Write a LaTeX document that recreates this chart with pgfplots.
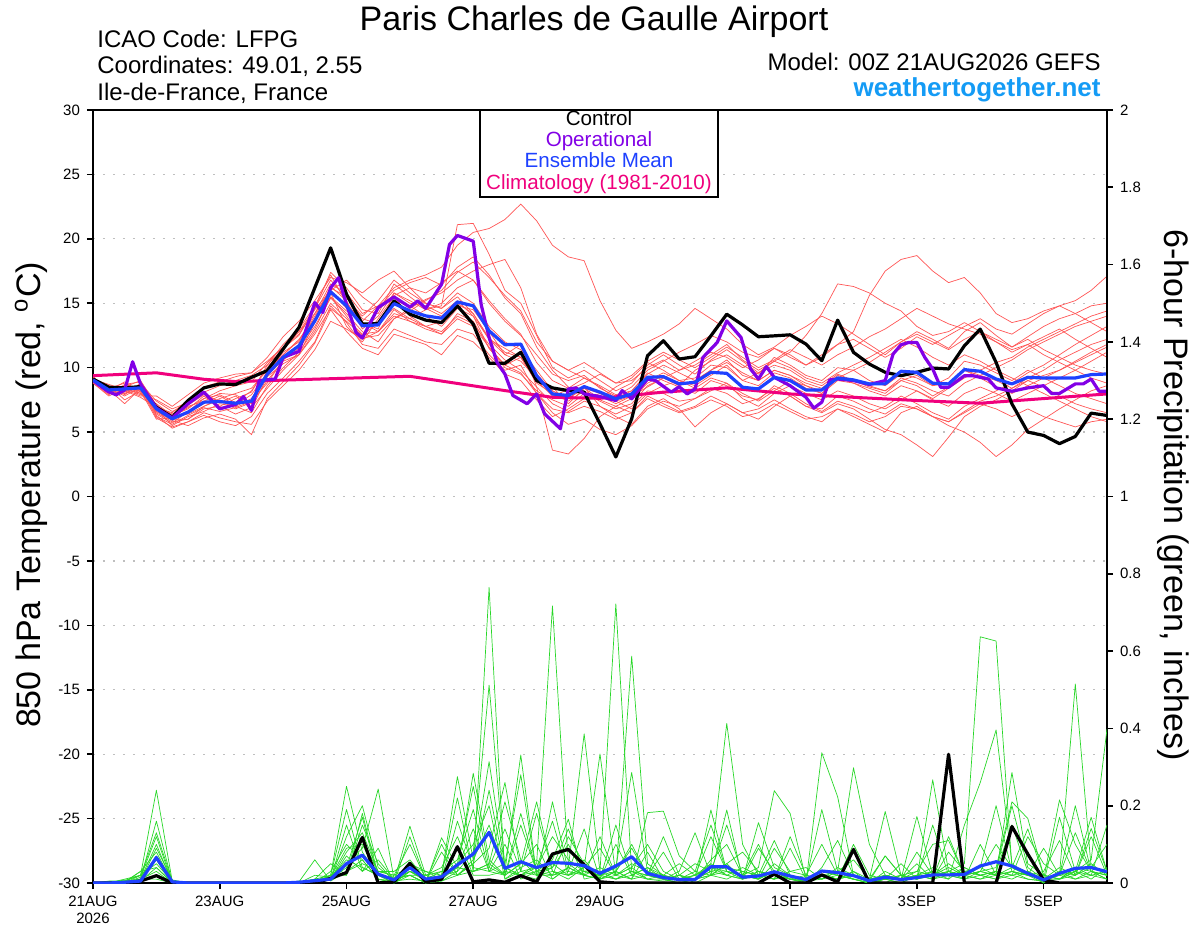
\documentclass[border=0pt]{standalone}
\usepackage{pgfplots}
\usepackage{pgfplotstable}
\pgfplotsset{compat=1.18}
\usepackage{fontspec}
\setmainfont{Liberation Sans}
\definecolor{redm}{RGB}{255,85,85}
\definecolor{greenm}{RGB}{40,215,40}
\definecolor{opcol}{RGB}{130,0,230}
\definecolor{meancol}{RGB}{30,65,255}
\definecolor{climcol}{RGB}{240,0,125}
\definecolor{webcol}{RGB}{20,155,245}

\pgfplotstableread{
k c m e1 e2 e3 e4 e5 e6 e7 e8 e9 e10 e11 e12
0 9.12 9.05 9.2 9.0 8.9 9.1 9.3 8.8 9.0 9.2 8.9 9.1 9.0 9.3
1 8.48 8.27 8.5 8.0 8.3 8.6 8.1 7.9 8.4 8.2 8.0 8.7 8.3 8.1
2 8.43 8.35 8.0 8.6 8.2 7.5 8.4 8.7 7.8 8.9 8.1 8.3 7.2 8.5
3 8.53 8.43 8.3 8.0 8.7 8.2 7.9 8.9 8.5 8.1 8.6 7.8 8.4 9.0
4 6.93 6.80 6.5 7.2 6.8 6.0 7.5 6.3 7.0 6.9 6.2 7.8 6.6 7.1
5 6.16 6.03 5.8 6.3 5.5 6.1 6.8 5.3 6.0 6.5 5.6 7.0 5.9 6.2
6 7.45 6.55 6.0 6.8 6.2 7.0 7.3 5.8 6.5 7.5 6.3 7.9 5.5 6.9
7 8.43 7.32 7.0 7.8 6.6 7.4 8.5 6.3 7.2 8.0 6.9 8.8 6.1 7.6
8 8.74 7.37 7.5 7.0 7.2 8.0 8.9 5.8 7.8 7.3 6.6 9.2 6.4 7.9
9 8.69 7.24 6.8 7.6 7.0 7.9 9.3 5.5 7.1 7.8 6.9 9.5 6.0 7.3
10 9.25 7.40 7.3 8.1 6.5 7.2 9.6 6.2 7.9 6.8 7.4 9.6 4.8 8.2
11 9.77 9.50 9.8 10.2 8.6 9.0 10.8 8.0 9.6 9.3 8.8 10.5 7.6 10.0
12 11.44 10.80 11.0 11.8 10.0 10.5 12.4 9.2 11.2 10.3 10.6 11.6 8.9 11.5
13 13.12 11.70 12.1 13.0 11.2 11.0 13.6 10.5 12.0 11.0 11.8 12.6 10.2 12.5
14 16.20 13.63 14.2 14.8 13.0 13.5 15.2 12.0 14.0 12.8 13.8 14.5 11.9 14.6
15 19.30 15.88 16.5 17.2 15.5 15.8 17.0 14.8 16.2 15.0 16.3 16.0 14.5 17.4
16 15.70 14.80 15.8 15.0 14.0 13.2 16.6 13.5 15.5 13.8 15.2 14.6 12.8 16.2
17 13.38 13.25 14.2 13.5 12.3 12.0 15.8 11.8 13.8 12.6 13.0 13.5 11.5 14.5
18 13.43 13.32 14.8 13.0 12.5 13.8 16.8 11.5 13.4 12.8 14.0 12.8 11.0 14.2
19 15.18 14.97 16.2 15.8 13.8 15.5 17.5 13.0 15.2 14.5 15.8 14.2 12.6 16.5
20 14.15 14.41 16.8 15.2 14.6 14.0 16.2 12.5 14.8 13.6 15.0 13.8 12.2 15.5
21 13.69 14.02 17.2 14.5 15.3 13.2 15.0 12.0 14.0 13.2 14.8 14.5 11.8 14.6
22 13.50 13.84 17.8 14.8 15.8 12.6 14.6 11.8 13.2 13.6 14.2 15.0 11.0 14.0
23 14.80 15.10 19.5 21.1 16.8 14.2 15.5 13.0 14.6 14.8 15.2 16.2 12.5 15.0
24 13.38 14.80 20.5 21.2 17.5 13.6 14.2 12.6 14.0 14.5 14.0 16.8 12.0 14.2
25 10.34 12.86 20.8 18.8 18.0 11.5 12.3 11.0 12.2 12.8 11.5 15.0 10.8 12.2
26 10.34 11.78 21.5 16.0 18.4 10.0 11.2 9.8 11.5 11.0 10.2 13.6 9.5 11.0
27 11.19 11.83 22.7 15.0 16.2 9.5 10.8 10.2 10.8 11.8 10.8 12.5 9.0 10.5
28 9.00 9.38 21.4 12.5 12.6 8.2 9.5 8.0 9.0 8.5 8.8 11.0 7.5 9.2
29 8.43 7.96 19.5 10.0 10.5 7.5 8.2 6.8 7.8 3.6 8.0 9.5 6.2 8.5
30 8.22 7.84 18.6 9.2 9.8 7.0 7.6 6.5 8.3 3.3 7.4 9.0 6.8 7.2
31 8.10 8.53 18.3 9.8 9.2 8.0 8.5 7.0 8.8 4.5 8.2 9.4 7.6 8.4
32 5.64 8.10 15.2 9.0 8.5 7.8 7.0 6.6 9.5 6.2 7.5 8.4 8.0 7.6
33 3.07 7.58 12.9 8.2 7.6 7.2 6.2 6.0 8.8 7.0 7.0 7.8 7.4 8.5
34 6.03 7.96 11.5 8.8 8.2 7.8 5.6 6.5 9.0 7.6 6.5 8.5 6.8 9.2
35 10.93 9.25 12.0 10.2 9.6 8.5 7.0 7.8 10.0 8.8 7.6 9.8 8.0 10.4
36 12.09 9.30 12.6 11.0 9.0 9.2 7.6 7.2 10.6 9.4 7.0 10.5 8.6 9.8
37 10.67 8.74 13.4 10.2 8.5 9.8 6.8 6.6 9.8 8.6 6.5 11.2 9.0 9.0
38 10.85 8.87 14.6 9.5 8.0 10.5 5.4 7.0 10.2 9.8 6.9 11.8 8.4 8.6
39 12.47 9.64 13.8 10.6 9.0 11.2 6.5 7.8 11.0 10.5 7.5 12.5 9.2 9.4
40 14.15 9.56 13.0 11.4 8.6 10.8 7.2 7.2 11.8 11.0 7.0 12.0 8.8 10.2
41 13.32 8.48 11.8 10.5 7.8 10.0 6.5 6.5 10.6 10.2 6.2 11.2 7.6 9.0
42 12.40 8.35 11.0 9.6 7.5 10.6 6.0 6.8 9.8 9.5 6.5 10.8 7.0 9.6
43 12.47 9.25 11.6 10.2 8.6 11.5 7.0 7.5 10.5 10.8 7.2 11.5 8.0 10.5
44 12.55 9.00 12.5 9.8 8.0 11.0 7.8 6.8 11.2 10.2 6.6 10.8 8.6 10.0
45 11.83 8.27 13.2 9.0 7.2 10.2 7.0 6.2 12.5 9.4 6.0 10.2 8.0 9.2
46 10.54 8.27 14.0 8.6 6.6 10.8 6.5 5.8 14.2 9.0 6.2 11.0 7.5 8.8
47 13.69 9.20 13.4 9.5 7.4 11.8 7.2 6.8 16.5 10.0 6.8 11.8 8.2 9.6
48 11.19 9.05 12.6 9.0 7.0 12.8 6.8 6.2 16.3 9.8 6.4 12.2 7.8 10.2
49 10.28 8.74 11.8 8.5 6.5 15.6 6.0 5.6 15.8 9.0 5.8 11.5 7.2 10.8
50 9.64 8.74 11.0 8.2 7.0 17.5 5.2 5.0 15.0 8.6 6.2 10.8 6.8 11.5
51 9.38 9.72 12.0 9.0 7.8 18.4 4.8 6.5 14.4 9.5 7.0 11.5 7.5 12.2
52 9.64 9.64 12.8 8.6 7.2 18.7 4.0 7.0 13.2 9.2 6.8 12.4 8.2 11.6
53 9.97 8.79 12.2 7.8 6.5 17.5 3.1 6.2 12.5 8.6 6.2 11.8 7.5 10.8
54 9.90 8.74 11.5 8.5 6.0 16.6 4.6 5.5 12.8 9.2 5.8 12.5 7.0 10.2
55 11.70 9.85 12.8 9.8 7.0 17.0 6.2 5.0 13.5 10.5 6.5 13.2 8.0 11.0
56 12.99 9.72 13.5 9.2 7.6 15.8 7.0 4.2 12.8 10.2 7.2 13.8 8.5 10.5
57 10.41 9.12 12.5 8.5 8.2 14.2 7.5 3.1 12.0 9.6 6.8 13.0 8.0 9.8
58 7.19 8.74 11.6 8.0 8.8 13.5 8.2 4.0 11.2 9.0 6.2 12.6 7.4 9.2
59 5.00 9.25 12.2 8.6 9.6 13.8 9.0 5.2 11.8 9.8 6.8 13.4 8.0 8.6
60 4.74 9.20 11.4 9.2 10.2 14.4 8.5 6.0 12.4 9.2 6.2 14.2 8.6 8.0
61 4.10 9.20 10.8 9.8 11.0 14.8 7.8 6.8 13.0 8.6 5.8 14.8 9.2 7.4
62 4.66 9.20 10.2 10.5 11.8 15.2 7.2 7.5 12.2 8.0 5.4 14.2 9.8 6.8
63 6.47 9.46 9.8 11.2 12.5 16.0 6.8 8.2 11.5 7.6 5.8 13.5 10.5 6.2
64 6.29 9.51 9.5 11.8 13.2 17.1 6.5 8.6 10.8 7.2 6.0 12.8 11.2 5.8
}\temps

\pgfplotstableread{
k e13 e14 e15 e16 e17 e18
0 9.0 9.2 8.8 9.1 9.3 8.9
1 8.2 8.4 7.8 8.6 8.0 8.3
2 8.0 8.8 8.4 7.9 8.6 8.2
3 8.6 8.2 8.0 8.8 8.4 7.7
4 6.4 7.0 6.6 7.4 6.1 6.9
5 5.7 6.4 6.0 6.6 5.4 6.2
6 6.6 7.1 6.0 7.2 5.8 6.4
7 7.6 7.9 6.8 8.1 6.5 7.0
8 8.2 7.4 7.0 8.6 6.1 7.6
9 8.6 7.0 6.4 9.0 5.8 8.0
10 8.9 7.6 6.9 9.4 5.6 8.4
11 10.4 9.4 8.4 10.2 7.4 9.8
12 11.6 10.6 9.8 11.5 8.6 11.0
13 12.8 11.5 11.0 12.8 9.8 12.2
14 14.6 13.2 12.6 14.2 11.4 13.8
15 16.8 15.4 14.6 16.0 13.6 15.5
16 15.4 14.2 13.6 16.8 13.0 14.4
17 14.0 12.8 12.5 15.5 12.2 13.6
18 15.2 12.0 13.5 14.6 12.8 14.8
19 16.8 13.8 14.6 16.0 14.0 15.6
20 15.8 14.4 13.8 16.6 13.6 16.2
21 15.0 15.2 13.2 17.0 13.0 15.8
22 14.6 16.0 12.8 16.4 12.6 16.6
23 15.8 17.4 14.0 17.8 13.8 17.5
24 15.0 18.2 13.4 18.6 13.2 16.8
25 13.2 17.0 11.8 17.2 11.6 15.2
26 12.0 15.6 10.6 15.4 10.2 13.8
27 11.4 14.4 9.8 14.2 9.6 12.6
28 9.8 12.0 8.5 11.6 8.0 10.4
29 8.2 10.5 7.2 9.8 6.5 9.0
30 7.6 9.8 6.6 8.5 5.6 8.4
31 8.4 10.4 7.4 8.0 6.0 9.2
32 8.0 9.6 7.0 7.4 5.2 8.6
33 7.4 8.8 6.4 6.8 4.8 7.9
34 7.8 9.4 7.0 7.2 5.5 8.2
35 9.0 10.5 8.2 8.6 6.8 9.5
36 9.6 11.2 8.0 9.2 7.4 10.2
37 9.0 10.6 7.4 8.6 7.0 9.6
38 9.2 10.0 7.6 9.0 7.6 9.0
39 10.2 10.8 8.4 9.8 8.2 9.8
40 10.0 11.6 8.0 10.4 8.8 10.6
41 9.0 10.8 7.2 9.6 8.0 9.4
42 8.6 10.0 7.6 9.0 7.4 9.0
43 9.6 10.6 8.4 9.8 8.2 9.8
44 9.2 11.4 7.8 9.4 9.0 9.4
45 8.4 10.8 7.0 8.8 8.6 8.6
46 8.0 10.2 6.8 8.4 8.2 8.0
47 9.0 11.0 7.8 9.4 9.2 9.2
48 8.8 11.6 7.4 9.0 9.8 8.8
49 8.4 12.4 6.8 8.6 10.4 8.2
50 8.0 13.0 6.4 8.2 11.2 7.8
51 9.0 13.8 7.2 9.2 12.0 8.6
52 9.4 14.6 6.8 8.8 12.6 8.2
53 8.6 14.0 6.2 8.2 12.0 7.6
54 8.8 13.4 5.8 7.8 11.4 8.4
55 9.8 13.0 6.6 8.8 12.2 9.2
56 9.4 12.6 7.4 9.4 12.8 9.8
57 9.0 12.0 7.8 10.0 12.2 10.4
58 8.4 11.4 8.4 10.6 11.6 10.8
59 9.0 11.8 9.2 11.4 12.4 11.6
60 9.4 11.0 9.8 12.0 13.2 12.2
61 9.8 10.4 10.6 12.6 13.8 12.8
62 10.4 9.8 11.2 13.2 14.2 13.4
63 11.0 9.2 11.8 13.6 14.8 14.0
64 11.6 8.8 12.2 14.0 15.0 14.4
}\tempsb

\pgfplotstableread{
k pc pm p1 p2 p3 p4 p5 p6 p7 p8 p9 p10 p11 p12
0 0 0 0 0 0 0 0 0 0 0 0 0 0 0
1 0 0 0 0.005 0 0 0.003 0 0 0.002 0 0 0 0
2 0 0.002 0.01 0.005 0 0.008 0.003 0 0.004 0 0.006 0 0.002 0
3 0.005 0.005 0.02 0.01 0.015 0.005 0.01 0.02 0.005 0.01 0.02 0.005 0.03 0.01
4 0.019 0.066 0.24 0.16 0.12 0.09 0.07 0.05 0.04 0.03 0.06 0.02 0.08 0.01
5 0 0.003 0.005 0.003 0 0.008 0 0.004 0 0 0.006 0 0.002 0
6 0 0 0 0 0 0 0 0 0 0 0 0 0 0
7 0 0 0 0 0 0 0 0 0 0 0 0 0 0
8 0 0 0 0 0 0 0 0 0 0 0 0 0 0
9 0 0 0 0 0 0 0 0 0 0 0 0 0 0
10 0 0 0 0 0 0 0 0 0 0 0 0 0 0
11 0 0 0 0 0 0 0 0 0 0 0 0 0 0
12 0 0 0 0 0 0 0 0 0 0 0 0 0 0
13 0 0.002 0 0 0.005 0 0 0 0.003 0 0 0 0 0.002
14 0 0.006 0 0.01 0 0.005 0.02 0 0.06 0 0.003 0 0.005 0
15 0.012 0.01 0.02 0.01 0.03 0.01 0.015 0.02 0.005 0.01 0.02 0.008 0.01 0.015
16 0.027 0.05 0.25 0.12 0.10 0.08 0.06 0.05 0.03 0.04 0.02 0.07 0.03 0.09
17 0.118 0.072 0.08 0.20 0.06 0.13 0.04 0.09 0.05 0.17 0.15 0.03 0.06 0.1
18 0 0.023 0.02 0.04 0.01 0.03 0.02 0.243 0.03 0.01 0.05 0.06 0.01 0.02
19 0.003 0.008 0 0.01 0.005 0.02 0 0.01 0.03 0 0.005 0.01 0 0.015
20 0.051 0.04 0.03 0.02 0.147 0.04 0.05 0.02 0.06 0.03 0.01 0.04 0.12 0.02
21 0.003 0.01 0.01 0 0.02 0.005 0.03 0 0.01 0.02 0.005 0.03 0.01 0
22 0.01 0.016 0.02 0.01 0.03 0.10 0.02 0.005 0.01 0.04 0.02 0.01 0.005 0.117
23 0.094 0.047 0.275 0.05 0.06 0.02 0.04 0.03 0.16 0.12 0.03 0.05 0.02 0.04
24 0.003 0.075 0.06 0.25 0.19 0.05 0.03 0.08 0.04 0.02 0.284 0.1 0.06 0.03
25 0.008 0.131 0.15 0.04 0.03 0.09 0.765 0.512 0.03 0.02 0.06 0.2 0.314 0.05
26 0.002 0.038 0.03 0.02 0.05 0.26 0.01 0.04 0.1 0.03 0.02 0.01 0.04 0.21
27 0.019 0.055 0.02 0.15 0.28 0.03 0.04 0.02 0.01 0.331 0.05 0.03 0.02 0.06
28 0.003 0.04 0.05 0.03 0.02 0.04 0.06 0.01 0.03 0.02 0.1 0.18 0.03 0.02
29 0.075 0.053 0.717 0.01 0.03 0.12 0.02 0.21 0.04 0.05 0.01 0.03 0.06 0.02
30 0.087 0.051 0.05 0.04 0.02 0.06 0.12 0.03 0.14 0.02 0.04 0.01 0.165 0.03
31 0.047 0.045 0.02 0.386 0.04 0.03 0.05 0.02 0.03 0.06 0.02 0.04 0.01 0.14
32 0.003 0.025 0.01 0.03 0.334 0.02 0.01 0.04 0.02 0.01 0.12 0.03 0.02 0.01
33 0 0.044 0.03 0.01 0.02 0.04 0.03 0.02 0.01 0.15 0.02 0.722 0.03 0.02
34 0 0.068 0.1 0.02 0.04 0.286 0.01 0.587 0.03 0.02 0.05 0.03 0.01 0.04
35 0 0.025 0.02 0.04 0.01 0.03 0.02 0.05 0.01 0.04 0.03 0.02 0.182 0.1
36 0 0.014 0.01 0.02 0.005 0.01 0.08 0.02 0.01 0.01 0.02 0.01 0.186 0.03
37 0 0.009 0 0.05 0.01 0.02 0.01 0.005 0.02 0 0.01 0.02 0.07 0.01
38 0 0.009 0.01 0.02 0.03 0 0.02 0.01 0.05 0.01 0.005 0.01 0.03 0.02
39 0 0.042 0.03 0.05 0.15 0.02 0.04 0.06 0.03 0.02 0.189 0.05 0.02 0.04
40 0 0.042 0.02 0.413 0.03 0.05 0.02 0.1 0.04 0.189 0.03 0.02 0.05 0.03
41 0 0.015 0.01 0.1 0.02 0.08 0.01 0.02 0.03 0.01 0.02 0.04 0.01 0.02
42 0 0.018 0.09 0.02 0.01 0.03 0.156 0.01 0.02 0.03 0.01 0.02 0.03 0.04
43 0.023 0.029 0.03 0.01 0.09 0.02 0.04 0.03 0.01 0.02 0.05 0.01 0.02 0.239
44 0 0.018 0.01 0.02 0.03 0.01 0.02 0.01 0.12 0.01 0.02 0.03 0.01 0.18
45 0 0.009 0 0.01 0.02 0.005 0.01 0 0.02 0.01 0 0.04 0.005 0.01
46 0.021 0.031 0.02 0.03 0.01 0.02 0.03 0.04 0.01 0.02 0.337 0.01 0.19 0.02
47 0.003 0.027 0.03 0.02 0.04 0.01 0.02 0.11 0.03 0.01 0.223 0.02 0.03 0.01
48 0.087 0.019 0.298 0.01 0.02 0.1 0.01 0.02 0.01 0.03 0.02 0.01 0.02 0.03
49 0 0.006 0.1 0 0.01 0.02 0 0.01 0 0.01 0.005 0 0.01 0
50 0 0.015 0.02 0.01 0.185 0.01 0.02 0.01 0.03 0.07 0.01 0.02 0 0.01
51 0 0.009 0.01 0.05 0.02 0 0.01 0.02 0.01 0.02 0 0.01 0.02 0.01
52 0 0.014 0.02 0.01 0.03 0.02 0.172 0.01 0.05 0.01 0.02 0.03 0.01 0.02
53 0 0.021 0.01 0.03 0.02 0.04 0.02 0.267 0.01 0.02 0.03 0.1 0.02 0.01
54 0.333 0.021 0.03 0.02 0.01 0.02 0.04 0.03 0.02 0.05 0.01 0.11 0.03 0.08
55 0 0.022 0.02 0.04 0.15 0.01 0.02 0.01 0.03 0.02 0.04 0.02 0.05 0.03
56 0 0.044 0.03 0.02 0.26 0.03 0.01 0.02 0.04 0.03 0.02 0.01 0.637 0.02
57 0 0.055 0.1 0.03 0.396 0.02 0.03 0.01 0.02 0.04 0.03 0.02 0.626 0.01
58 0.146 0.044 0.04 0.15 0.05 0.286 0.02 0.03 0.01 0.21 0.02 0.03 0.04 0.02
59 0.075 0.025 0.02 0.03 0.02 0.05 0.01 0.02 0.03 0.167 0.12 0.01 0.02 0.03
60 0.008 0.008 0.01 0.01 0 0.02 0.005 0.01 0.01 0.02 0.05 0.005 0.01 0
61 0 0.025 0.02 0.01 0.03 0.01 0.02 0.04 0.215 0.01 0.02 0.03 0.01 0.17
62 0 0.038 0.03 0.02 0.01 0.04 0.515 0.02 0.1 0.03 0.01 0.02 0.04 0.03
63 0 0.04 0.02 0.141 0.03 0.02 0.04 0.12 0.03 0.01 0.02 0.05 0.03 0.06
64 0 0.029 0.01 0.03 0.02 0.15 0.03 0.02 0.01 0.04 0.03 0.02 0.01 0.398
}\precip

\pgfplotstableread{
k p13 p14 p15 p16
0 0 0 0 0
1 0 0 0 0
2 0.005 0 0.003 0
3 0.02 0.01 0.03 0.01
4 0.13 0.1 0.04 0.06
5 0.005 0 0.002 0
6 0 0 0 0
7 0 0 0 0
8 0 0 0 0
9 0 0 0 0
10 0 0 0 0
11 0 0 0 0
12 0 0 0 0
13 0 0 0 0.002
14 0.01 0 0.005 0.01
15 0.02 0.01 0.01 0.05
16 0.19 0.03 0.15 0.02
17 0.04 0.11 0.03 0.18
18 0.02 0.03 0.09 0.02
19 0.01 0.02 0 0.01
20 0.03 0.1 0.02 0.03
21 0.01 0.01 0.02 0.005
22 0.02 0.03 0.01 0.08
23 0.22 0.02 0.04 0.02
24 0.03 0.05 0.14 0.03
25 0.05 0.24 0.03 0.04
26 0.02 0.03 0.02 0.14
27 0.18 0.02 0.05 0.03
28 0.03 0.04 0.21 0.02
29 0.02 0.16 0.03 0.04
30 0.04 0.02 0.02 0.1
31 0.02 0.03 0.04 0.02
32 0.01 0.02 0.09 0.01
33 0.1 0.01 0.02 0.03
34 0.02 0.03 0.01 0.09
35 0.01 0.02 0.08 0.02
36 0.02 0.12 0.01 0.01
37 0.01 0.02 0.02 0.03
38 0.02 0.01 0.01 0.13
39 0.12 0.03 0.02 0.02
40 0.03 0.15 0.03 0.01
41 0.01 0.02 0.02 0.03
42 0.02 0.01 0.1 0.02
43 0.01 0.03 0.02 0.11
44 0.09 0.01 0.01 0.02
45 0.01 0.02 0.005 0.01
46 0.02 0.1 0.01 0.02
47 0.01 0.02 0.03 0.01
48 0.02 0.01 0.06 0.02
49 0 0.01 0.01 0.005
50 0.01 0.02 0.02 0.07
51 0.02 0.01 0.01 0.02
52 0.01 0.08 0.02 0.01
53 0.15 0.02 0.01 0.03
54 0.02 0.03 0.12 0.02
55 0.03 0.02 0.02 0.01
56 0.02 0.04 0.03 0.1
57 0.03 0.2 0.02 0.02
58 0.2 0.03 0.04 0.03
59 0.04 0.02 0.14 0.02
60 0.01 0.03 0.02 0.09
61 0.02 0.11 0.01 0.02
62 0.13 0.02 0.03 0.2
63 0.03 0.04 0.17 0.03
64 0.02 0.1 0.03 0.02
}\precipb

\begin{document}
\begin{tikzpicture}[x=1pt,y=1pt]
\useasboundingbox (0,0) rectangle (600,463.5);
\begin{axis}[
  at={(46.5pt,22pt)}, anchor=south west,
  scale only axis, width=507pt, height=386.5pt,
  xmin=0, xmax=16, ymin=-30, ymax=30,
  axis line style={line width=1.1pt},
  tick align=outside, major tick length=3pt,
  tick style={line width=0.8pt, black},
  xtick pos=left, ytick pos=left,
  xtick={0,2,4,6,8,11,13,15},
  xticklabels={{21AUG\\2026},23AUG,25AUG,27AUG,29AUG,1SEP,3SEP,5SEP},
  xticklabel style={align=center, font=\fontsize{7.5}{8.5}\selectfont},
  ytick={-30,-25,...,30},
  yticklabels={-30,-25,-20,-15,-10,-5,0,5,10,15,20,25,30},
  yticklabel style={font=\fontsize{7.5}{8.5}\selectfont},
  minor tick num=0,
  ymajorgrids,
  grid style={gray!50, line width=0.6pt, dash pattern=on 0.8pt off 4.2pt},
  every axis plot/.append style={line join=round},
]
\foreach \e in {e1,e2,e3,e4,e5,e6,e7,e8,e9,e10,e11,e12}{
  \addplot[redm, line width=0.35pt] table[x expr=\thisrow{k}/4, y=\e]{\temps};
}
\foreach \e in {e13,e14,e15,e16,e17,e18}{
  \addplot[redm, line width=0.35pt] table[x expr=\thisrow{k}/4, y=\e]{\tempsb};
}
\addplot[climcol, line width=1.5pt] coordinates {(0,9.38) (1,9.6) (1.75,9.1) (2.25,8.92) (5,9.33) (6.5,8.22) (7.25,7.7) (8,7.62) (9,8.1) (10,8.43) (11,7.96) (12,7.7) (13,7.45) (14,7.24) (15,7.6) (16,7.96)};
\addplot[black, line width=1.6pt] table[x expr=\thisrow{k}/4, y=c]{\temps};
\addplot[opcol, line width=1.6pt] coordinates {(0,9.0) (0.23,8.17) (0.365,7.89) (0.5,8.27) (0.625,10.46) (0.75,8.74) (1.0,6.86) (1.25,6.1) (1.5,7.2) (1.75,8.1) (2.0,6.8) (2.25,7.14) (2.375,7.76) (2.5,6.68) (2.625,9.0) (2.875,9.12) (3.0,10.8) (3.25,11.26) (3.5,15.05) (3.625,14.28) (3.75,16.2) (3.875,16.98) (4.0,14.9) (4.15,12.73) (4.25,12.3) (4.5,14.66) (4.75,15.49) (5.0,14.7) (5.125,15.18) (5.25,14.6) (5.5,16.47) (5.625,19.56) (5.75,20.26) (6.0,19.82) (6.125,14.9) (6.25,12.35) (6.375,10.41) (6.5,9.5) (6.625,7.84) (6.85,7.2) (7.0,7.96) (7.125,6.42) (7.375,5.26) (7.5,8.35) (7.625,8.43) (7.75,7.96) (8.0,7.76) (8.25,7.45) (8.35,8.22) (8.5,7.58) (8.75,9.12) (8.875,9.0) (9.125,8.1) (9.25,8.53) (9.375,7.96) (9.5,8.35) (9.625,10.8) (9.85,11.96) (10.0,13.63) (10.225,12.35) (10.375,9.9) (10.5,9.12) (10.625,10.08) (10.75,9.25) (11.0,8.6) (11.25,7.7) (11.375,6.86) (11.5,7.32) (11.625,9.05) (11.75,9.12) (12.0,9.0) (12.25,8.69) (12.5,9.0) (12.625,11.06) (12.75,11.78) (12.875,11.96) (13.0,11.96) (13.125,10.8) (13.25,9.9) (13.375,8.48) (13.5,8.48) (13.75,9.38) (13.875,9.38) (14.125,9.12) (14.25,8.43) (14.5,8.17) (14.75,8.43) (15.0,8.6) (15.125,8.0) (15.25,8.0) (15.5,8.74) (15.625,8.74) (15.75,9.12) (15.875,8.17) (16.0,8.17)};
\addplot[meancol, line width=1.6pt] table[x expr=\thisrow{k}/4, y=m]{\temps};
\end{axis}
\begin{axis}[
  at={(46.5pt,22pt)}, anchor=south west,
  scale only axis, width=507pt, height=386.5pt,
  xmin=0, xmax=16, ymin=0, ymax=2,
  axis x line=none, axis y line*=right,
  axis line style={line width=1.1pt},
  tick align=outside, major tick length=3pt,
  tick style={line width=0.8pt, black},
  ytick={0,0.2,...,2.01},
  yticklabels={0,0.2,0.4,0.6,0.8,1,1.2,1.4,1.6,1.8,2},
  yticklabel style={font=\fontsize{7.5}{8.5}\selectfont},
  every axis plot/.append style={line join=round},
]
\foreach \p in {p1,p2,p3,p4,p5,p6,p7,p8,p9,p10,p11,p12}{
  \addplot[greenm, line width=0.35pt] table[x expr=\thisrow{k}/4, y=\p]{\precip};
}
\foreach \p in {p13,p14,p15,p16}{
  \addplot[greenm, line width=0.35pt] table[x expr=\thisrow{k}/4, y=\p]{\precipb};
}
\addplot[black, line width=1.6pt] table[x expr=\thisrow{k}/4, y=pc]{\precip};
\addplot[meancol, line width=1.6pt] table[x expr=\thisrow{k}/4, y=pm]{\precip};
\end{axis}
% titles
\node[anchor=base, inner sep=0pt, font=\fontsize{17}{20}\selectfont] at (297,448) {Paris Charles de Gaulle Airport};
\node[anchor=base west, inner sep=0pt, font=\fontsize{12}{14}\selectfont] at (48.5,439.5) {ICAO Code: LFPG};
\node[anchor=base west, inner sep=0pt, font=\fontsize{12}{14}\selectfont] at (48.5,426.5) {Coordinates: 49.01, 2.55};
\node[anchor=base west, inner sep=0pt, font=\fontsize{12}{14}\selectfont] at (48.5,413) {Ile-de-France, France};
\node[anchor=base east, inner sep=0pt, font=\fontsize{12}{14}\selectfont] at (550.5,428) {Model: 00Z 21AUG2026 GEFS};
\node[anchor=base east, inner sep=0pt, text=webcol, font=\fontsize{13}{15}\selectfont\bfseries] at (550.5,415) {weathertogether.net};
% legend box
\draw[line width=0.7pt, fill=white] (240,365) rectangle (359,408.5);
\node[anchor=base, inner sep=0pt, font=\fontsize{10.3}{12}\selectfont] at (299.5,400.75) {Control};
\node[anchor=base, inner sep=0pt, text=opcol, font=\fontsize{10.3}{12}\selectfont] at (299.5,390.25) {Operational};
\node[anchor=base, inner sep=0pt, text=meancol, font=\fontsize{10.3}{12}\selectfont] at (299.5,379.75) {Ensemble Mean};
\node[anchor=base, inner sep=0pt, text=climcol, font=\fontsize{10.3}{12}\selectfont] at (299.5,368.75) {Climatology (1981-2010)};
% axis labels
\node[rotate=90, inner sep=0pt, font=\fontsize{17}{20}\selectfont] at (15.5,216) {850 hPa Temperature (red, \textsuperscript{o}C)};
\node[rotate=-90, inner sep=0pt, font=\fontsize{17}{20}\selectfont] at (586.5,216) {6-hour Precipitation (green, inches)};
\end{tikzpicture}
\end{document}
